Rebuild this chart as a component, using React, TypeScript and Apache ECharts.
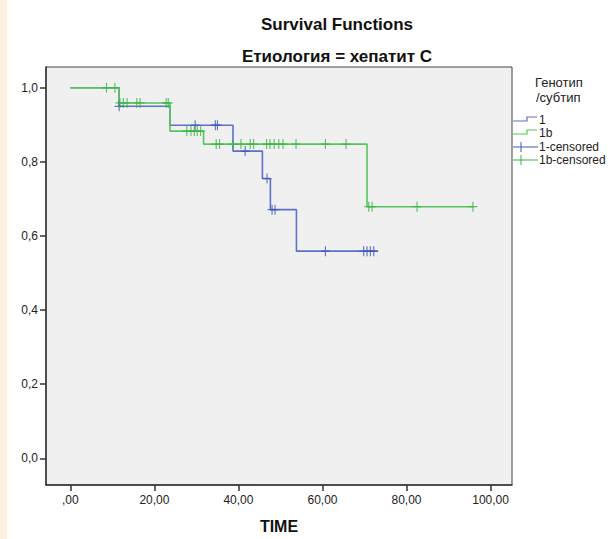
import React, { useEffect, useRef } from "react";
import * as echarts from "echarts";

// Group "1" (blue): event times and survival after each drop
const blueStart = 1.0;
const blueDropTimes = [11.6, 23.7, 38.7, 45.7, 47.6, 53.8];
const blueDropValues = [0.95, 0.899, 0.829, 0.755, 0.671, 0.559];
const blueEndTime = 73.2;
const blueCensorTimes = [11.6, 29.7, 34.5, 35.0, 41.6, 46.8, 48.0, 48.7, 60.7, 69.8, 70.6, 71.4, 72.2];

// Group "1b" (green)
const greenStart = 1.0;
const greenDropTimes = [11.6, 23.7, 31.7, 70.6];
const greenDropValues = [0.959, 0.883, 0.848, 0.679];
const greenEndTime = 96.0;
const greenCensorTimes = [
  8.6, 10.6, 11.8, 12.6, 13.5, 15.8, 16.6, 22.8, 23.3, 27.7, 28.7, 29.5, 30.2, 31.0,
  34.7, 35.5, 38.7, 40.6, 42.8, 43.6, 46.7, 47.5, 48.5, 49.6, 50.6, 53.7, 60.7, 65.6,
  71.0, 71.8, 82.5, 95.8,
];

const xTicks = [0, 20, 40, 60, 80, 100];
const yTicks = [0, 0.2, 0.4, 0.6, 0.8, 1.0];

const legendTitle = ["Генотип", "/субтип"];
const legendNames = ["1", "1b", "1-censored", "1b-censored"];

const BLUE = "#5a72c8";
const GREEN = "#55c65b";
const BLUE_C = "#4058b8";
const GREEN_C = "#3bb444";

function stepPath(start: number, times: number[], vals: number[], end: number) {
  const pts: number[][] = [[0, start]];
  let cur = start;
  times.forEach((t, i) => {
    pts.push([t, cur]);
    pts.push([t, vals[i]]);
    cur = vals[i];
  });
  pts.push([end, cur]);
  return pts;
}

function survAt(t: number, start: number, times: number[], vals: number[]) {
  let s = start;
  for (let i = 0; i < times.length; i++) {
    if (times[i] <= t) s = vals[i];
  }
  return s;
}

const CROSS = "path://M5,0L5,10M0,5L10,5";

export default function App() {
  const ref = useRef<HTMLDivElement>(null);
  useEffect(() => {
    if (!ref.current) return;
    const chart = echarts.init(ref.current, null, { renderer: "svg" });
    const font = "Liberation Sans, Arial, sans-serif";
    const fmtX = (v: number) => (v === 0 ? ",00" : v.toFixed(2).replace(".", ","));
    const fmtY = (v: number) => v.toFixed(1).replace(".", ",");

    const lx = 513;
    const legendY = [120, 133, 147, 160];
    const graphic: any[] = [
      { type: "rect", left: 0, top: 0, shape: { width: 7, height: 539 }, style: { fill: "#fdf0dc" }, z: 0 },
      { type: "text", x: 535, y: 82, style: { text: legendTitle[0], font: `13px ${font}`, fill: "#222", verticalAlign: "middle" } },
      { type: "text", x: 536, y: 97, style: { text: legendTitle[1], font: `13px ${font}`, fill: "#222", verticalAlign: "middle" } },
    ];
    [BLUE, GREEN].forEach((c, i) => {
      const y = legendY[i];
      graphic.push({
        type: "polyline",
        shape: { points: [[lx, y + 1], [lx + 14, y + 1], [lx + 14, y - 3], [lx + 24, y - 3]] },
        style: { stroke: c, lineWidth: 1.2, fill: "none" },
      });
    });
    [BLUE_C, GREEN_C].forEach((c, i) => {
      const y = legendY[i + 2];
      graphic.push({ type: "line", shape: { x1: lx, y1: y, x2: lx + 25, y2: y }, style: { stroke: c, lineWidth: 1 } });
      graphic.push({ type: "line", shape: { x1: lx + 8, y1: y - 5, x2: lx + 8, y2: y + 5 }, style: { stroke: c, lineWidth: 1 } });
    });
    legendNames.forEach((n, i) => {
      graphic.push({
        type: "text",
        x: 539,
        y: legendY[i],
        style: { text: n, font: `12px ${font}`, fill: "#222", verticalAlign: "middle" },
      });
    });

    chart.setOption({
      animation: false,
      backgroundColor: "#ffffff",
      title: [
        { text: "Survival Functions", left: 332, top: 11, textAlign: "center", textStyle: { fontFamily: font, fontSize: 17, fontWeight: "bold", color: "#111" } },
        { text: "Етиология = хепатит С", left: 332, top: 43, textAlign: "center", textStyle: { fontFamily: font, fontSize: 17, fontWeight: "bold", color: "#111" } },
      ],
      grid: {
        left: 46,
        top: 67,
        right: 99,
        bottom: 49,
        show: true,
        backgroundColor: "#f0f0f0",
        borderColor: "#444",
        borderWidth: 1,
      },
      xAxis: {
        type: "value",
        min: -5.8,
        max: 105.1,
        name: "TIME",
        nameLocation: "middle",
        nameGap: 33,
        nameTextStyle: { fontFamily: font, fontSize: 16, fontWeight: "bold", color: "#111" },
        axisLine: { show: true, onZero: false, lineStyle: { color: "#333", width: 1.5 } },
        axisTick: { show: true, length: 6, customValues: xTicks, lineStyle: { color: "#333", width: 1.5 } },
        axisLabel: { customValues: xTicks, formatter: fmtX, fontFamily: font, fontSize: 12, color: "#222", margin: 9 },
        splitLine: { show: false },
      },
      yAxis: {
        type: "value",
        min: -0.072,
        max: 1.056,
        axisLine: { show: true, onZero: false, lineStyle: { color: "#333", width: 1.5 } },
        axisTick: { show: true, length: 6, customValues: yTicks, lineStyle: { color: "#333", width: 1.5 } },
        axisLabel: { customValues: yTicks, formatter: fmtY, fontFamily: font, fontSize: 12, color: "#222", margin: 8 },
        splitLine: { show: false },
      },
      graphic,
      series: [
        {
          type: "line",
          data: stepPath(blueStart, blueDropTimes, blueDropValues, blueEndTime),
          showSymbol: false,
          lineStyle: { color: BLUE, width: 1.6 },
          z: 2,
        },
        {
          type: "line",
          data: stepPath(greenStart, greenDropTimes, greenDropValues, greenEndTime),
          showSymbol: false,
          lineStyle: { color: GREEN, width: 1.6 },
          z: 3,
        },
        {
          type: "scatter",
          data: blueCensorTimes.map((t) => [t, survAt(t, blueStart, blueDropTimes, blueDropValues)]),
          symbol: CROSS,
          symbolSize: [9, 10],
          itemStyle: { color: "none", borderColor: BLUE_C, borderWidth: 1.2 },
          z: 4,
        },
        {
          type: "scatter",
          data: greenCensorTimes.map((t) => [t, survAt(t, greenStart, greenDropTimes, greenDropValues)]),
          symbol: CROSS,
          symbolSize: [9, 10],
          itemStyle: { color: "none", borderColor: GREEN_C, borderWidth: 1.2 },
          z: 5,
        },
      ],
    });
    return () => chart.dispose();
  }, []);
  return <div ref={ref} style={{ width: 611, height: 539, position: "absolute", left: 0, top: 0 }} />;
}
